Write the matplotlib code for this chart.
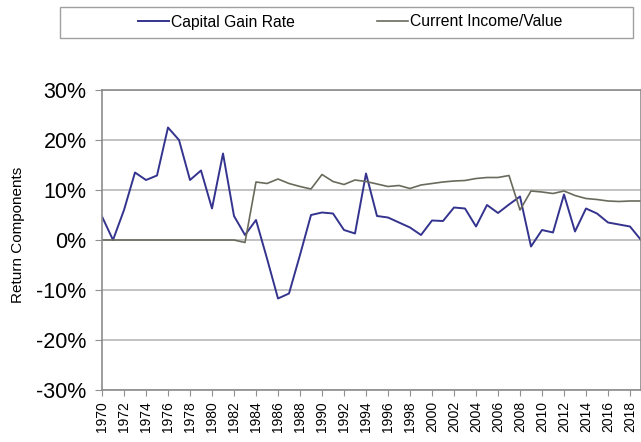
import matplotlib
matplotlib.use("Agg")
import matplotlib.pyplot as plt
from matplotlib.patches import Rectangle
from matplotlib.ticker import FuncFormatter, MultipleLocator
import numpy as np

plt.rcParams['font.family'] = ['Liberation Sans', 'DejaVu Sans']

years = list(range(1970, 2020))
# capital gain rate (%)
capital_gain = [4.7, 0.0, 6.0, 13.5, 12.0, 12.9, 22.5, 20.0, 12.0, 13.9,
                6.3, 17.3, 4.8, 1.0, 4.0, -3.7, -11.7, -10.7, -3.0, 5.0,
                5.5, 5.3, 2.0, 1.3, 13.3, 4.8, 4.5, 3.5, 2.5, 1.0,
                3.9, 3.8, 6.5, 6.3, 2.7, 7.0, 5.4, 7.1, 8.7, -1.3,
                2.0, 1.5, 9.1, 1.7, 6.3, 5.3, 3.5, 3.1, 2.7, 0.0]
# current income / value (%)
current_income = [0.0, 0.0, 0.0, 0.0, 0.0, 0.0, 0.0, 0.0, 0.0, 0.0,
                  0.0, 0.0, 0.0, -0.5, 11.6, 11.3, 12.2, 11.3, 10.7, 10.2,
                  13.1, 11.7, 11.1, 12.0, 11.7, 11.2, 10.7, 10.9, 10.3, 11.0,
                  11.3, 11.6, 11.8, 11.9, 12.3, 12.5, 12.5, 12.9, 6.0, 9.8,
                  9.6, 9.3, 9.8, 8.9, 8.3, 8.1, 7.8, 7.7, 7.8, 7.8]
labels = ['Capital Gain Rate', 'Current Income/Value']

cg = np.array(capital_gain) / 100
ci = np.array(current_income) / 100

fig = plt.figure(figsize=(6.41, 4.42), dpi=100)
ax = fig.add_axes([102/641, 52/442, 539/641, 300/442])

ax.set_ylim(-0.3, 0.3)
ax.set_xlim(1970, 2019)
ax.yaxis.set_major_locator(MultipleLocator(0.1))
ax.yaxis.set_major_formatter(FuncFormatter(lambda v, p: f'{v*100:.0f}%'))
ax.grid(axis='y', color='#bdbdbd', linewidth=1.3)
ax.set_axisbelow(True)

l1, = ax.plot(years, cg, color='#34348f', linewidth=1.4)
l2, = ax.plot(years, ci, color='#6a6a5c', linewidth=1.2)

ax.set_xticks(years[::2])
ax.set_xticklabels([str(y) for y in years[::2]], rotation=90, fontsize=10)
ax.tick_params(axis='y', labelsize=15.5, length=5, color='#909090', pad=6)
ax.tick_params(axis='x', length=4, color='#909090', pad=4)
for s in ax.spines.values():
    s.set_color('#8c8c8c')
    s.set_linewidth(1.2)

fig.text(18/641, 1 - 235/442, 'Return Components', rotation=90,
         ha='center', va='center', fontsize=11)

fig.add_artist(Rectangle((60/641, 1 - 38/442), 573/641, 31/442,
                         transform=fig.transFigure, fill=False,
                         edgecolor='#a0a0a0', linewidth=1.0))
fig.legend([l1, l2], labels, loc='center', bbox_to_anchor=(350/641, 1 - 22/442),
           ncol=2, frameon=False, fontsize=11.3, handlelength=2.0,
           handletextpad=0.1, columnspacing=5.2)

fig.savefig('out.png', dpi=100)
